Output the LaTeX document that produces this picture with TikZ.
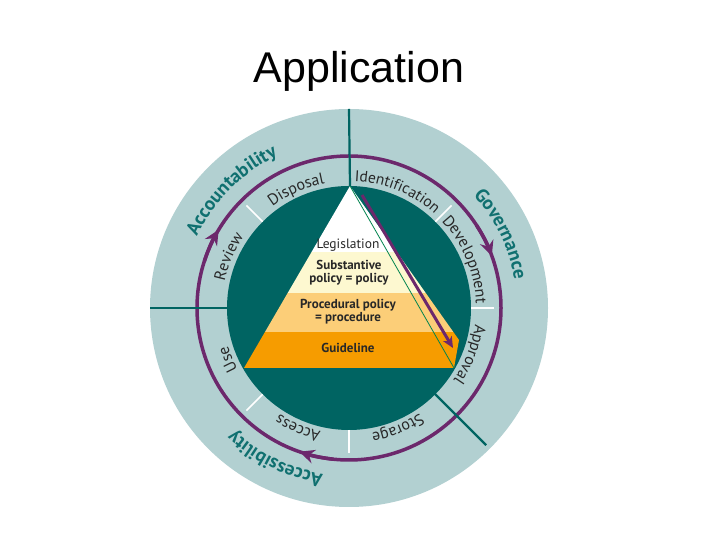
\documentclass[tikz,border=0pt]{standalone}
\usepackage{fontspec}
\setmainfont{Liberation Sans}
\newfontfamily\labfont{PT Sans}
\usetikzlibrary{decorations.text, arrows.meta}
\definecolor{ringbg}{RGB}{178,208,209}
\definecolor{darkteal}{RGB}{0,100,98}
\definecolor{plum}{RGB}{108,40,108}
\definecolor{tealtext}{RGB}{16,112,112}
\definecolor{labgray}{RGB}{40,40,40}
\definecolor{pyryellow}{RGB}{253,248,208}
\definecolor{pyrlorange}{RGB}{252,206,120}
\definecolor{pyrorange}{RGB}{246,156,0}
\newcommand\RingLbl[6]{% radius, mid angle, half span, format, color, text
  \path[decorate, decoration={text along path, text align=center, text color=#5, text={|#4|#6}}]
    ([shift={(349,232)}]#2+#3:#1) arc[start angle=#2+#3, end angle=#2-#3, radius=#1];
}
\newcommand\InFmt{\labfont\fontsize{16}{16}\selectfont}
\newcommand\IdFmt{\labfont\fontsize{15.5}{16}\selectfont}
\newcommand\OutFmt{\labfont\bfseries\fontsize{19}{19}\selectfont}
\tikzset{
  divider/.style={draw=darkteal, line width=2.2pt},
  whitediv/.style={draw=white, line width=1.5pt},
  ringarrow/.style={draw=plum, line width=3.5pt, -{Stealth[length=15pt,width=14pt,inset=5pt]}},
  pyrtext/.style={font=\labfont\bfseries\fontsize{13}{14}\selectfont, text=labgray, align=center, inner sep=0pt},
}
\begin{document}
\begin{tikzpicture}[x=1pt,y=1pt]
\useasboundingbox (0,0) rectangle (720,540);
\node[font=\fontsize{43}{50}\selectfont, inner sep=0pt] (title) at (359,469) {Application};
\coordinate (C) at (349,232);
% rings
\fill[ringbg] (C) circle[radius=199];
\fill[darkteal] (C) circle[radius=122];
% pyramid
\coordinate (apex) at (350,354);
\coordinate (bl) at (244,172);
\coordinate (br) at (454,172);
\coordinate (bc) at (459,200);
\begin{scope}
\clip (apex) -- (bc) -- (br) -- (bl) -- cycle;
\fill[pyrorange] (200,150) rectangle (500,208);
\fill[pyrlorange] (200,208) rectangle (500,247);
\fill[pyryellow] (200,247) rectangle (500,288);
\fill[white] (200,288) rectangle (500,360);
\end{scope}
\draw[darkteal!80!green, line width=0.8pt] (apex) -- (br);
\coordinate (pa1) at (362,345);
\coordinate (pa2) at (453,192);
\draw[plum, line width=3pt, -{Stealth[length=11pt,width=10pt,inset=3pt]}] (pa1) -- (pa2);
\node[pyrtext, font=\labfont\fontsize{13.5}{14}\selectfont] (leg) at (348,295) {Legislation};
\node[pyrtext] (sub) at (349,267) {Substantive\\[-1pt]policy = policy};
\node[pyrtext] (proc) at (348,228) {Procedural policy\\[-1pt]= procedure};
\node[pyrtext] (guide) at (348,192) {Guideline};
% purple cycle
\draw[plum, line width=3.5pt] (C) circle[radius=152];
\draw[ringarrow] ([shift={(C)}]162:152) arc[start angle=162, end angle=149, radius=152];
\draw[ringarrow] ([shift={(C)}]33:152) arc[start angle=33, end angle=20, radius=152];
\draw[ringarrow] ([shift={(C)}]-96:152) arc[start angle=-96, end angle=-109, radius=152];
% dividers
\draw[divider] ([shift={(C)}]90:199) -- (apex);
\draw[divider] ([shift={(C)}]180:199) -- ([shift={(C)}]180:121);
\draw[divider] ([shift={(C)}]-45:120) -- ([shift={(C)}]-45:194);
\foreach \a in {135,45,0,-90,-135}
  \draw[whitediv] ([shift={(C)}]\a:122) -- ([shift={(C)}]\a:145);
% inner labels
\RingLbl{127}{114}{40}{\InFmt}{labgray}{Disposal}
\RingLbl{127}{67.5}{40}{\IdFmt}{labgray}{Identification}
\RingLbl{127}{22.5}{40}{\InFmt}{labgray}{Development}
\RingLbl{127}{-21}{40}{\InFmt}{labgray}{Approval}
\RingLbl{127}{-68}{40}{\InFmt}{labgray}{Storage}
\RingLbl{127}{-113}{40}{\InFmt}{labgray}{Access}
\RingLbl{127}{-157}{40}{\InFmt}{labgray}{Use}
\RingLbl{127}{157}{40}{\InFmt}{labgray}{Review}
% outer labels
\RingLbl{168}{135}{50}{\OutFmt}{tealtext}{Accountability}
\RingLbl{168}{26}{50}{\OutFmt}{tealtext}{Governance}
\RingLbl{168}{-116}{50}{\OutFmt}{tealtext}{Accessibility}
\end{tikzpicture}
\end{document}
